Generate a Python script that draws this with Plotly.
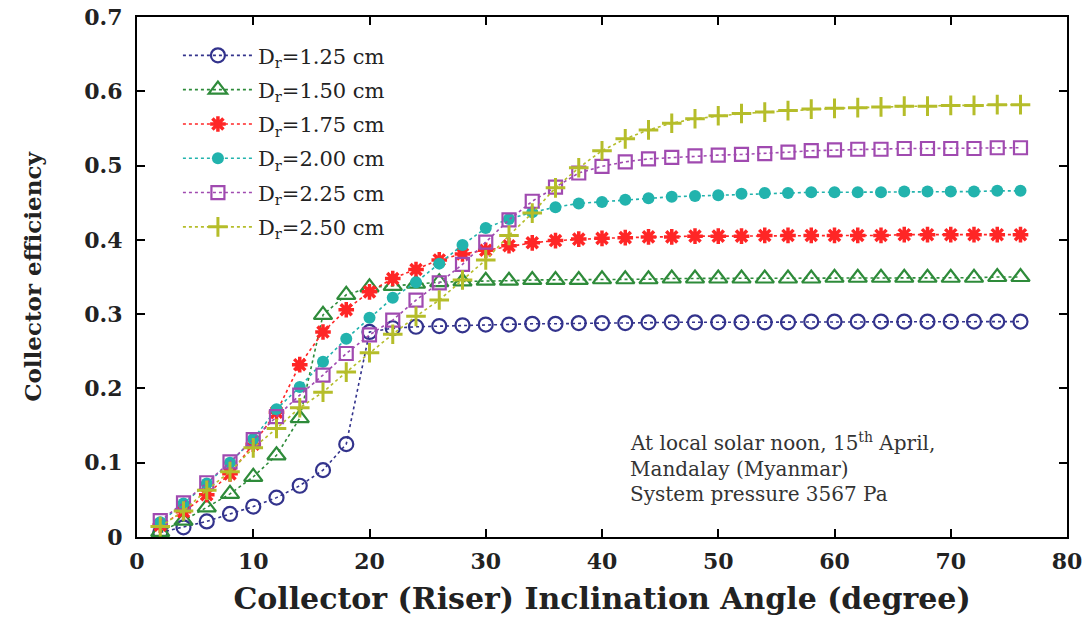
import plotly.graph_objects as go

angle = list(range(2, 78, 2))

eff_125 = [0.006, 0.013, 0.021, 0.031, 0.041, 0.053, 0.069, 0.090, 0.125, 0.276,
           0.281, 0.283, 0.284, 0.285, 0.286, 0.286, 0.287, 0.287, 0.288, 0.288,
           0.288, 0.289, 0.289, 0.289, 0.289, 0.289, 0.289, 0.289, 0.290, 0.290,
           0.290, 0.290, 0.290, 0.290, 0.290, 0.290, 0.290, 0.290]
eff_150 = [0.007, 0.022, 0.040, 0.058, 0.081, 0.110, 0.160, 0.299, 0.326, 0.336,
           0.338, 0.341, 0.343, 0.344, 0.345, 0.345, 0.346, 0.346, 0.346, 0.347,
           0.347, 0.347, 0.348, 0.348, 0.348, 0.348, 0.348, 0.348, 0.348, 0.349,
           0.349, 0.349, 0.349, 0.349, 0.349, 0.349, 0.350, 0.350]
eff_175 = [0.016, 0.034, 0.057, 0.085, 0.125, 0.168, 0.232, 0.276, 0.306, 0.330,
           0.348, 0.360, 0.373, 0.381, 0.386, 0.392, 0.396, 0.399, 0.401, 0.402,
           0.403, 0.404, 0.404, 0.405, 0.405, 0.405, 0.406, 0.406, 0.406, 0.406,
           0.406, 0.406, 0.407, 0.407, 0.407, 0.407, 0.407, 0.407]
eff_200 = [0.020, 0.045, 0.072, 0.100, 0.132, 0.172, 0.202, 0.236, 0.267, 0.295,
           0.322, 0.343, 0.368, 0.393, 0.416, 0.428, 0.437, 0.444, 0.449, 0.451,
           0.454, 0.456, 0.458, 0.459, 0.460, 0.462, 0.463, 0.463, 0.464, 0.464,
           0.464, 0.464, 0.465, 0.465, 0.465, 0.465, 0.466, 0.466]
eff_225 = [0.022, 0.046, 0.073, 0.101, 0.131, 0.162, 0.191, 0.218, 0.247, 0.272,
           0.292, 0.319, 0.342, 0.367, 0.397, 0.427, 0.452, 0.471, 0.490, 0.499,
           0.505, 0.509, 0.511, 0.513, 0.514, 0.515, 0.516, 0.518, 0.520, 0.521,
           0.522, 0.522, 0.523, 0.523, 0.523, 0.523, 0.524, 0.524]
eff_250 = [0.014, 0.035, 0.063, 0.088, 0.120, 0.146, 0.174, 0.195, 0.222, 0.248,
           0.273, 0.297, 0.319, 0.346, 0.373, 0.406, 0.436, 0.470, 0.497, 0.520,
           0.536, 0.548, 0.557, 0.563, 0.567, 0.570, 0.572, 0.574, 0.576, 0.577,
           0.578, 0.579, 0.580, 0.580, 0.581, 0.581, 0.582, 0.582]

names = ["D<sub>r</sub>=1.25 cm", "D<sub>r</sub>=1.50 cm", "D<sub>r</sub>=1.75 cm",
         "D<sub>r</sub>=2.00 cm", "D<sub>r</sub>=2.25 cm", "D<sub>r</sub>=2.50 cm"]
series = [eff_125, eff_150, eff_175, eff_200, eff_225, eff_250]
colors = ["#33338c", "#2e8b3a", "#ff2626", "#22b3ad", "#a04ab0", "#b5bd2a"]
symbols = ["circle-open", "triangle-up-open", "asterisk-open", "circle",
           "square-open", "cross-thin-open"]
sizes = [14, 16, 13, 12, 13, 14]
mline = [2.2, 2.2, 3.5, 0, 2.2, 3.0]

note_lines = ["At local solar noon, 15<sup>th</sup> April,",
              "Mandalay (Myanmar)",
              "System pressure 3567 Pa"]
note_y = [0.128, 0.0915, 0.058]

SERIF = "DejaVu Serif"

fig = go.Figure()
for i, (nm, ys) in enumerate(zip(names, series)):
    fig.add_trace(go.Scatter(
        x=angle, y=ys, name=nm, mode="lines+markers", legendgroup=str(i),
        line=dict(color=colors[i], dash="dot", width=1.6),
        marker=dict(symbol=symbols[i], size=sizes[i], color=colors[i],
                    line=dict(color=colors[i], width=mline[i])),
    ))

for txt, yy in zip(note_lines, note_y):
    fig.add_annotation(
        x=42.2, y=yy, xref="x", yref="y", xanchor="left", yanchor="middle",
        align="left", showarrow=False, text=txt,
        font=dict(family=SERIF, size=20, color="#333333"),
    )

axis_common = dict(
    showline=True, linecolor="black", linewidth=2, mirror="ticks",
    ticks="inside", ticklen=8, tickwidth=1.5, tickcolor="black",
    showgrid=False, zeroline=False, automargin=False,
    tickprefix="<b>", ticksuffix="</b>",
)

fig.update_xaxes(range=[0, 80], dtick=10, ticklabelstandoff=4,
                 tickfont=dict(family=SERIF, size=22, color="#222222"),
                 title=dict(text="<b>Collector (Riser) Inclination Angle (degree)</b>",
                            font=dict(family=SERIF, size=30, color="#222222")),
                 **axis_common)
fig.update_yaxes(range=[0, 0.7], dtick=0.1, ticklabelstandoff=8,
                 tickfont=dict(family=SERIF, size=22, color="#222222"),
                 title=dict(text="<b>Collector efficiency</b>",
                            font=dict(family=SERIF, size=23, color="#222222"),
                            standoff=36),
                 **axis_common)

fig.update_layout(
    width=1091, height=619,
    margin=dict(l=137, r=24, t=17, b=82),
    plot_bgcolor="white", paper_bgcolor="white",
    legend=dict(x=0.044, y=0.965, xanchor="left", yanchor="top",
                bgcolor="rgba(0,0,0,0)", tracegroupgap=4, itemwidth=70,
                font=dict(family=SERIF, size=21, color="#222222")),
)

fig.write_html("out.html")
